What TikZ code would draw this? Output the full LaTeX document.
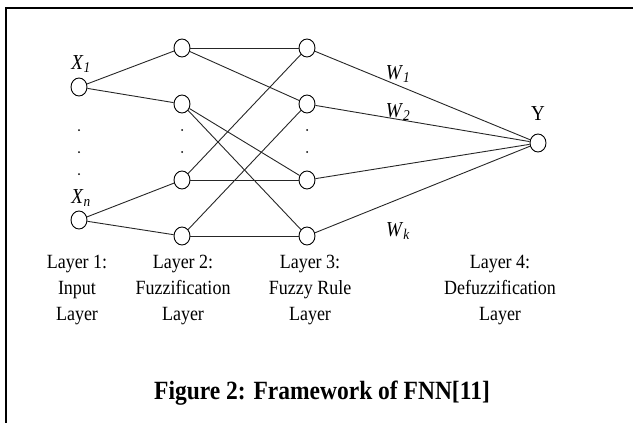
\documentclass[tikz,border=0pt]{standalone}
\usepackage{fontspec}
\usepackage{graphicx}
\setmainfont{Liberation Serif}
\usetikzlibrary{shapes.geometric}
\newcommand{\tall}[1]{\scalebox{1}[1.12]{#1}}
\newcommand{\layerlines}[1]{\tall{\begin{tabular}{@{}c@{}}#1\end{tabular}}}
\begin{document}
\begin{tikzpicture}[x=1pt,y=-1pt,
  neuron/.style={draw,line width=0.9pt,ellipse,minimum width=16pt,minimum height=18pt,inner sep=0pt},
  conn/.style={line width=0.9pt,black!85},
  lbl/.style={font=\fontsize{18}{23.2}\selectfont,inner sep=0pt},
  wlbl/.style={font=\fontsize{19}{20}\selectfont,inner sep=0pt},
  dotmark/.style={circle,fill=black,inner sep=0pt,minimum size=2pt}]
\useasboundingbox (0,0) rectangle (633,423);
\draw[line width=2pt] (6,450) -- (6,8) -- (650,8);
% layer 1
\node[neuron] (a1) at (79,87) {};
\node[neuron] (an) at (79,220) {};
% layer 2
\node[neuron] (b1) at (182,48) {};
\node[neuron] (b2) at (182,104) {};
\node[neuron] (b3) at (182,180) {};
\node[neuron] (b4) at (182,236) {};
% layer 3
\node[neuron] (c1) at (307,48) {};
\node[neuron] (c2) at (307,104) {};
\node[neuron] (c3) at (307,180) {};
\node[neuron] (c4) at (307,236) {};
% output
\node[neuron] (y) at (538,143) {};
% dots
\foreach \yy [count=\i] in {130,152,174} \node[dotmark] (da\i) at (79,\yy) {};
\foreach \yy [count=\i] in {130,152} \node[dotmark] (db\i) at (182,\yy) {};
\foreach \yy [count=\i] in {130,152} \node[dotmark] (dc\i) at (307,\yy) {};
% connections
\draw[conn] (a1) -- (b1);
\draw[conn] (a1) -- (b2);
\draw[conn] (an) -- (b3);
\draw[conn] (an) -- (b4);
\draw[conn] (b1) -- (c1);
\draw[conn] (b1) -- (c2);
\draw[conn] (b2) -- (c3);
\draw[conn] (b2) -- (c4);
\draw[conn] (b3) -- (c1);
\draw[conn] (b3) -- (c3);
\draw[conn] (b4) -- (c2);
\draw[conn] (b4) -- (c4);
\foreach \n in {c1,c2,c3,c4} \draw[conn] (\n) -- (y);
% labels
\node[wlbl] (lx1) at (81,64) {\tall{\textit{X}\textsubscript{\textit{1}}}};
\node[wlbl] (lxn) at (81,198) {\tall{\textit{X}\textsubscript{\textit{n}}}};
\node[wlbl] (lw1) at (398,74) {\tall{\textit{W}\textsubscript{\textit{1}}}};
\node[wlbl] (lw2) at (398,112) {\tall{\textit{W}\textsubscript{\textit{2}}}};
\node[wlbl] (lwk) at (398,231) {\tall{\textit{W}\textsubscript{\textit{k}}}};
\node[wlbl] (ly) at (538,114) {\tall{Y}};
\node[lbl] (t1) at (77,289) {\layerlines{Layer 1:\\Input\\Layer}};
\node[lbl] (t2) at (183,289) {\layerlines{Layer 2:\\Fuzzification\\Layer}};
\node[lbl] (t3) at (310,289) {\layerlines{Layer 3:\\Fuzzy Rule\\Layer}};
\node[lbl] (t4) at (500,289) {\layerlines{Layer 4:\\Defuzzification\\Layer}};
\node[font=\fontsize{23.5}{25}\selectfont\bfseries,inner sep=0pt] (cap) at (322,393) {\tall{Figure 2: Framework of FNN[11]}};
\end{tikzpicture}
\end{document}
